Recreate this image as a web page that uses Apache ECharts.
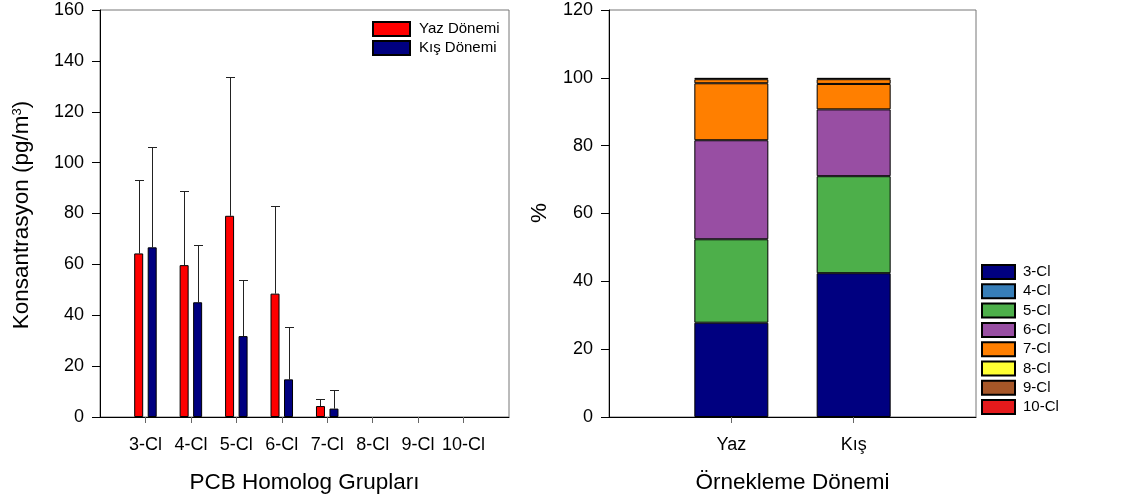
<!DOCTYPE html>
<html>
<head>
<meta charset="utf-8">
<script src="https://cdn.jsdelivr.net/npm/echarts@6/dist/echarts.min.js"></script>
<style>
html,body{margin:0;padding:0;background:#fff;}
#c{width:1122px;height:501px;}
</style>
</head>
<body>
<div id="c"></div>
<script>
// ---- Left chart data ----
const homologs = ['3-Cl', '4-Cl', '5-Cl', '6-Cl', '7-Cl', '8-Cl', '9-Cl', '10-Cl'];
const yazMean  = [64.3, 59.7, 79.1, 48.5, 4.3, 0, 0, 0];
const yazUpper = [93.0, 88.8, 133.5, 83.1, 7.2, null, null, null];
const kisMean  = [66.7, 45.1, 31.8, 14.8, 3.3, 0, 0, 0];
const kisUpper = [106.1, 67.7, 53.7, 35.5, 10.5, null, null, null];
const leftYTicks = [0, 20, 40, 60, 80, 100, 120, 140, 160];

// ---- Right chart data ----
const periods = ['Yaz', 'Kış'];
const pct3  = [27.8, 42.4];
const pct4  = [0, 0];
const pct5  = [24.6, 28.6];
const pct6  = [29.2, 19.7];
const pct7  = [16.8, 7.5];
const pct7b = [1.2, 1.4];
const pct8  = [0, 0];
const pct9  = [0.4, 0.4];
const pct10 = [0, 0];
const rightYTicks = [0, 20, 40, 60, 80, 100, 120];

const FONT = 'Liberation Sans, Arial, sans-serif';
const chart = echarts.init(document.getElementById('c'));

// padded category axes so the ticks sit at 1/9 .. 8/9 and 1/3, 2/3
const leftCats = [''].concat(homologs, ['']);
const rightCats = [''].concat(periods, ['']);
const pad = arr => ['-'].concat(arr.map(v => v === 0 ? { value: 0, itemStyle: { borderWidth: 0 } } : v), ['-']);

const BW = 9, GAP = 4.5;
const off = (BW + GAP) / 2;

function errData(mean, upper) {
  const out = [];
  mean.forEach((m, i) => { if (upper[i] != null) out.push([i + 1, m, upper[i]]); });
  return out;
}
function errRender(sign) {
  return function (params, api) {
    const b = api.coord([api.value(0), api.value(1)]);
    const t = api.coord([api.value(0), api.value(2)]);
    const cx = Math.round(b[0] + sign * off) + 0.5;
    const ty = Math.round(t[1]) + 0.5;
    const st = { stroke: '#222', lineWidth: 1 };
    return {
      type: 'group',
      children: [
        { type: 'line', shape: { x1: cx, y1: b[1], x2: cx, y2: ty }, style: st },
        { type: 'line', shape: { x1: cx - BW / 2, y1: ty, x2: cx + BW / 2, y2: ty }, style: st }
      ]
    };
  };
}

const colors = {
  '3-Cl': '#000080', '4-Cl': '#377EB8', '5-Cl': '#4DAF4A', '6-Cl': '#984EA3',
  '7-Cl': '#FF7F00', '8-Cl': '#FFFF33', '9-Cl': '#A65628', '10-Cl': '#E41A1C'
};
const stackList = [
  ['3-Cl', pct3], ['4-Cl', pct4], ['5-Cl', pct5], ['6-Cl', pct6],
  ['7-Cl', pct7], ['7-Cl', pct7b], ['8-Cl', pct8], ['9-Cl', pct9], ['10-Cl', pct10]
];

const tickFilter = (i, v) => v !== '';

const xBase = {
  type: 'category', boundaryGap: false,
  axisLine: { lineStyle: { color: '#000', width: 1 } },
  axisTick: { interval: tickFilter, length: 6, lineStyle: { color: '#666' } },
  axisLabel: { interval: tickFilter, color: '#000', fontSize: 18, fontFamily: FONT, margin: 19 },
  splitLine: { show: false }
};
const yBase = {
  type: 'value', min: 0,
  axisLine: { show: true, lineStyle: { color: '#000', width: 1 } },
  axisTick: { show: true, length: 8, lineStyle: { color: '#000' } },
  axisLabel: { color: '#000', fontSize: 18, fontFamily: FONT, margin: 16 },
  splitLine: { show: false }
};

const series = [
  { name: 'Yaz Dönemi', type: 'bar', xAxisIndex: 0, yAxisIndex: 0, data: pad(yazMean),
    barWidth: BW, barGap: '50%',
    itemStyle: { color: '#FF0000', borderColor: '#000', borderWidth: 1 } },
  { name: 'Kış Dönemi', type: 'bar', xAxisIndex: 0, yAxisIndex: 0, data: pad(kisMean),
    barWidth: BW, barGap: '50%',
    itemStyle: { color: '#000080', borderColor: '#000', borderWidth: 1 } },
  { name: 'errYaz', type: 'custom', xAxisIndex: 0, yAxisIndex: 0, data: errData(yazMean, yazUpper),
    renderItem: errRender(-1), encode: { x: 0, y: [1, 2] }, z: 1 },
  { name: 'errKis', type: 'custom', xAxisIndex: 0, yAxisIndex: 0, data: errData(kisMean, kisUpper),
    renderItem: errRender(1), encode: { x: 0, y: [1, 2] }, z: 1 }
];
stackList.forEach(([n, arr]) => {
  series.push({
    name: n, type: 'bar', stack: 'pct', xAxisIndex: 1, yAxisIndex: 1,
    data: pad(arr), barWidth: 74,
    itemStyle: { color: colors[n], borderColor: '#000', borderWidth: 1 }
  });
});

chart.setOption({
  animation: false,
  backgroundColor: '#fff',
  grid: [
    { left: 100, top: 10, width: 409, height: 407, show: true, borderColor: '#777', borderWidth: 1 },
    { left: 609, top: 10, width: 367, height: 407, show: true, borderColor: '#777', borderWidth: 1 }
  ],
  xAxis: [
    Object.assign({}, xBase, { gridIndex: 0, data: leftCats }),
    Object.assign({}, xBase, { gridIndex: 1, data: rightCats })
  ],
  yAxis: [
    Object.assign({}, yBase, { gridIndex: 0, max: leftYTicks[leftYTicks.length - 1], interval: 20 }),
    Object.assign({}, yBase, { gridIndex: 1, max: rightYTicks[rightYTicks.length - 1], interval: 20 })
  ],
  legend: [
    { data: ['Yaz Dönemi', 'Kış Dönemi'], orient: 'vertical', left: 372, top: 21, padding: 0,
      itemWidth: 37, itemHeight: 14, itemGap: 3, icon: 'rect', selectedMode: false,
      textStyle: { color: '#000', fontSize: 15, lineHeight: 14, fontFamily: FONT, padding: [0, 0, 0, 4] } },
    { data: homologs, orient: 'vertical', left: 981, top: 264, padding: 0,
      itemWidth: 33, itemHeight: 14, itemGap: 3.3, icon: 'rect', selectedMode: false,
      textStyle: { color: '#000', fontSize: 15, lineHeight: 14, fontFamily: FONT, padding: [0, 0, 0, 3] } }
  ],
  graphic: [
    { type: 'text', x: 22, y: 215, rotation: Math.PI / 2,
      style: { text: '{a|Konsantrasyon (pg/m}{b|3}{a|)}', align: 'center', verticalAlign: 'middle',
        rich: { a: { fontSize: 22.5, fontFamily: FONT, fill: '#000' },
                b: { fontSize: 13, fontFamily: FONT, fill: '#000', verticalAlign: 'top', padding: [0, 0, 10, 0] } } } },
    { type: 'text', x: 304.5, y: 483,
      style: { text: 'PCB Homolog Grupları', align: 'center', verticalAlign: 'middle',
        fontSize: 22.5, fontFamily: FONT, fill: '#000' } },
    { type: 'text', x: 540, y: 213, rotation: Math.PI / 2,
      style: { text: '%', align: 'center', verticalAlign: 'middle',
        fontSize: 22.5, fontFamily: FONT, fill: '#000' } },
    { type: 'text', x: 792.5, y: 483,
      style: { text: 'Örnekleme Dönemi', align: 'center', verticalAlign: 'middle',
        fontSize: 22.5, fontFamily: FONT, fill: '#000' } }
  ],
  series: series
});
</script>
</body>
</html>
